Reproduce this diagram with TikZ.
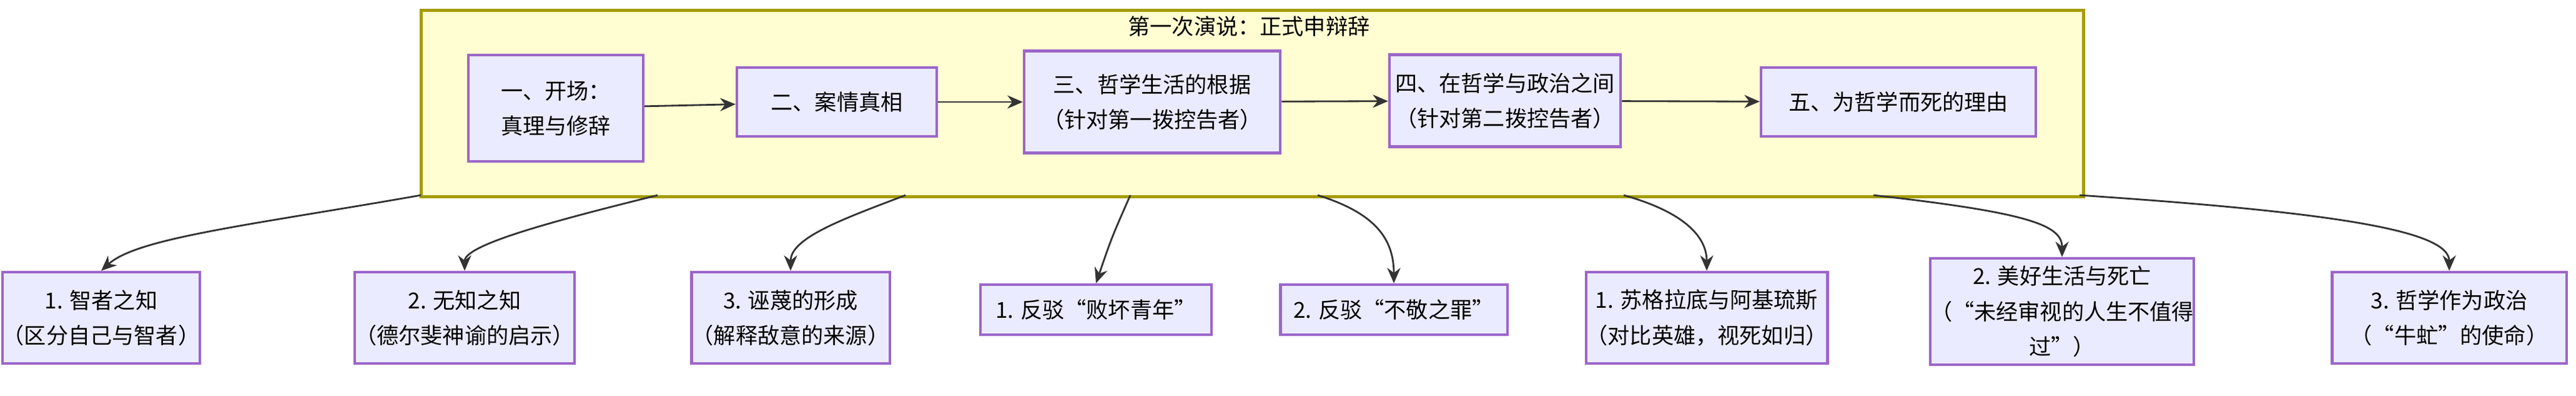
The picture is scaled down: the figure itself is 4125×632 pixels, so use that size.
\documentclass[tikz,border=0pt]{standalone}
\usepackage{fontspec}
\setmainfont{Noto Sans CJK SC}
\usetikzlibrary{arrows.meta}
\begin{document}
\begin{tikzpicture}[x=0.01cm,y=-0.01cm,
 box/.style={draw=violet!70!blue!60,line width=1.2pt,fill=blue!8,align=center,font=\fontsize{10}{16}\selectfont,inner sep=0pt},
 grp/.style={draw=olive!80!yellow,line width=1.5pt,fill=yellow!18},
 arr/.style={-{Stealth[length=7pt,width=6pt]},line width=0.8pt,black!80}]
\useasboundingbox (0,0) rectangle (4125,632);
\node[grp,minimum width=26.6cm,minimum height=2.98cm,anchor=north west] (g) at (672,14) {};
\node[font=\fontsize{10}{12}\selectfont] (gt) at (2000,42) {第一次演说：正式申辩辞};
\node[box,minimum width=2.8cm,minimum height=1.7cm] (a1) at (890,173) {一、开场：\\真理与修辞};
\node[box,minimum width=3.2cm,minimum height=1.1cm] (a2) at (1340,163) {二、案情真相};
\node[box,minimum width=4.1cm,minimum height=1.63cm] (a3) at (1845,163) {三、哲学生活的根据\\（针对第一拨控告者）};
\node[box,minimum width=3.7cm,minimum height=1.47cm] (a4) at (2410,161) {四、在哲学与政治之间\\（针对第二拨控告者）};
\node[box,minimum width=4.4cm,minimum height=1.1cm] (a5) at (3040,163) {五、为哲学而死的理由};
\draw[arr] (a1) -- (a2); \draw[arr] (a2) -- (a3); \draw[arr] (a3) -- (a4); \draw[arr] (a4) -- (a5);
\node[box,minimum width=3.05cm,minimum height=1.46cm] (b1) at (162,508) {1. 智者之知\\（区分自己与智者）};
\node[box,minimum width=3.32cm,minimum height=1.46cm] (b2) at (744,508) {2. 无知之知\\（德尔斐神谕的启示）};
\node[box,minimum width=3.17cm,minimum height=1.46cm] (b3) at (1266,508) {3. 诬蔑的形成\\（解释敌意的来源）};
\node[box,minimum width=3.7cm,minimum height=0.8cm] (b4) at (1755,495) {1. 反驳“败坏青年”};
\node[box,minimum width=3.63cm,minimum height=0.8cm] (b5) at (2232,495) {2. 反驳“不敬之罪”};
\node[box,minimum width=3.42cm,minimum height=1.46cm] (b6) at (2733,508) {1. 苏格拉底与阿基琉斯\\（对比英雄，视死如归）};
\node[box,minimum width=3.75cm,minimum height=1.7cm] (b7) at (3302,498) {2. 美好生活与死亡\\（“未经审视的人生不值得\\过”）};
\node[box,minimum width=3.75cm,minimum height=1.46cm] (b8) at (3922,508) {3. 哲学作为政治\\（“牛虻”的使命）};
\coordinate (s1) at (674,312); \coordinate (s2) at (1053,312); \coordinate (s3) at (1450,312);
\coordinate (s4) at (1810,312); \coordinate (s5) at (2110,312); \coordinate (s6) at (2600,312);
\coordinate (s7) at (3000,312); \coordinate (s8) at (3330,312);
\draw[arr] (s1) .. controls (400,360) and (220,380) .. (b1.north);
\draw[arr] (s2) .. controls (900,350) and (744,390) .. (b2.north);
\draw[arr] (s3) .. controls (1350,350) and (1266,380) .. (b3.north);
\draw[arr] (s4) .. controls (1780,380) .. (b4.north);
\draw[arr] (s5) .. controls (2200,340) and (2232,380) .. (b5.north);
\draw[arr] (s6) .. controls (2700,340) and (2733,380) .. (b6.north);
\draw[arr] (s7) .. controls (3250,340) and (3302,360) .. (b7.north);
\draw[arr] (s8) .. controls (3750,340) and (3922,370) .. (b8.north);
\end{tikzpicture}
\end{document}
